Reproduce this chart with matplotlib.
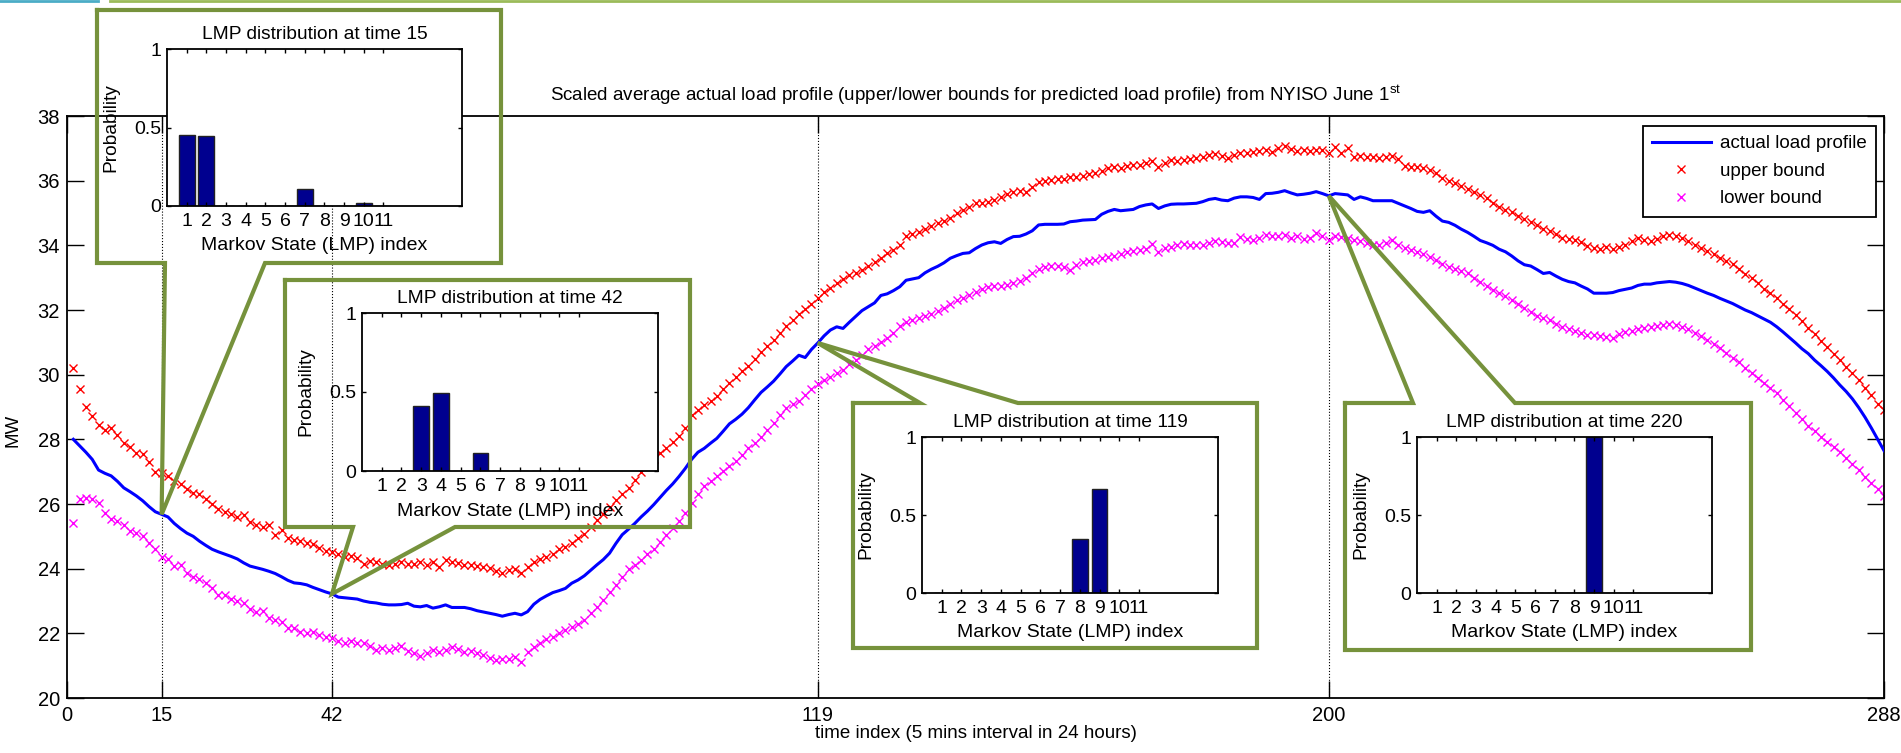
import matplotlib
matplotlib.use("Agg")
import matplotlib.pyplot as plt
from matplotlib.lines import Line2D

plt.rcParams['font.family'] = ['Liberation Sans', 'DejaVu Sans']
plt.rcParams['mathtext.fontset'] = 'custom'
plt.rcParams['mathtext.rm'] = 'Liberation Sans'
plt.rcParams['mathtext.it'] = 'Liberation Sans'

# data (time index 1..288, MW)
time_index = list(range(1, 289))

actual_load = [
    28.0, 27.8, 27.6, 27.38, 27.05, 26.95, 26.87, 26.7, 26.5, 26.38,
    26.25, 26.1, 25.92, 25.76, 25.68, 25.6, 25.4, 25.24, 25.1, 25.0,
    24.85, 24.72, 24.6, 24.52, 24.45, 24.38, 24.3, 24.18, 24.08, 24.03,
    23.98, 23.92, 23.85, 23.75, 23.64, 23.56, 23.54, 23.5, 23.42, 23.35,
    23.28, 23.22, 23.12, 23.1, 23.08, 23.06, 23.0, 22.96, 22.94, 22.9,
    22.88, 22.88, 22.89, 22.93, 22.84, 22.82, 22.86, 22.78, 22.82, 22.88,
    22.8, 22.8, 22.8, 22.76, 22.7, 22.66, 22.62, 22.58, 22.53, 22.58,
    22.62, 22.57, 22.67, 22.9, 23.05, 23.16, 23.26, 23.32, 23.39, 23.55,
    23.65, 23.78, 23.95, 24.12, 24.28, 24.48, 24.78, 25.05, 25.22, 25.4,
    25.6, 25.78, 25.98, 26.2, 26.42, 26.62, 26.85, 27.1, 27.38, 27.6,
    27.72, 27.88, 28.03, 28.25, 28.48, 28.62, 28.78, 28.98, 29.22, 29.45,
    29.62, 29.8, 30.02, 30.25, 30.42, 30.6, 30.53, 30.78, 30.98, 31.2,
    31.38, 31.48, 31.43, 31.62, 31.8, 31.98, 32.1, 32.22, 32.45, 32.5,
    32.6, 32.72, 32.92, 32.96, 33.0, 33.15, 33.26, 33.35, 33.46, 33.6,
    33.68, 33.75, 33.77, 33.9, 34.01, 34.08, 34.11, 34.06, 34.18, 34.27,
    34.28, 34.35, 34.45, 34.63, 34.65, 34.65, 34.65, 34.66, 34.73, 34.75,
    34.78, 34.79, 34.8, 34.96, 35.05, 35.11, 35.07, 35.09, 35.11, 35.2,
    35.25, 35.28, 35.14, 35.22, 35.27, 35.28, 35.28, 35.29, 35.3, 35.35,
    35.42, 35.45, 35.4, 35.38, 35.46, 35.5, 35.5, 35.48, 35.42, 35.6,
    35.61, 35.64, 35.69, 35.62, 35.56, 35.58, 35.61, 35.66, 35.6, 35.53,
    35.6, 35.58, 35.56, 35.42, 35.5, 35.45, 35.38, 35.38, 35.38, 35.38,
    35.3, 35.22, 35.14, 35.05, 35.02, 35.07, 34.9, 34.75, 34.71, 34.62,
    34.5, 34.4, 34.28, 34.15, 34.08, 34.0, 33.88, 33.8, 33.67, 33.52,
    33.4, 33.36, 33.25, 33.13, 33.16, 33.05, 32.95, 32.88, 32.84, 32.74,
    32.65, 32.52, 32.52, 32.52, 32.54, 32.6, 32.64, 32.68, 32.76, 32.8,
    32.8, 32.84, 32.86, 32.88, 32.86, 32.82, 32.76, 32.68, 32.6, 32.52,
    32.45, 32.36, 32.28, 32.2, 32.1, 32.0, 31.92, 31.82, 31.72, 31.62,
    31.48, 31.32, 31.15, 30.98, 30.8, 30.65, 30.45, 30.28, 30.1, 29.9,
    29.68, 29.48, 29.25, 28.98, 28.68, 28.35, 28.0, 27.65,
]

upper_bound = [
    30.2, 29.55, 29.0, 28.73, 28.44, 28.29, 28.35, 28.13, 27.9, 27.75,
    27.57, 27.55, 27.31, 27.0, 26.95, 26.86, 26.7, 26.61, 26.45, 26.33,
    26.3, 26.15, 26.0, 25.85, 25.76, 25.7, 25.6, 25.65, 25.45, 25.35,
    25.3, 25.35, 25.04, 25.2, 24.94, 24.9, 24.85, 24.78, 24.75, 24.63,
    24.55, 24.53, 24.45, 24.35, 24.4, 24.32, 24.15, 24.25, 24.2, 24.15,
    24.11, 24.15, 24.2, 24.15, 24.15, 24.2, 24.1, 24.2, 24.05, 24.26,
    24.2, 24.16, 24.12, 24.11, 24.08, 24.05, 24.01, 23.92, 23.88, 23.95,
    23.98, 23.88, 24.06, 24.2, 24.3, 24.37, 24.45, 24.6, 24.68, 24.8,
    24.94, 25.08, 25.28, 25.5, 25.7, 25.92, 26.12, 26.3, 26.5, 26.75,
    26.98, 27.22, 27.4, 27.57, 27.74, 27.92, 28.1, 28.35, 28.75, 28.9,
    29.05, 29.2, 29.35, 29.55, 29.75, 29.92, 30.1, 30.26, 30.5, 30.7,
    30.88, 31.08, 31.3, 31.52, 31.7, 31.88, 32.02, 32.2, 32.38, 32.55,
    32.68, 32.82, 32.95, 33.08, 33.15, 33.24, 33.35, 33.48, 33.6, 33.75,
    33.85, 34.0, 34.3, 34.35, 34.42, 34.5, 34.6, 34.68, 34.76, 34.85,
    35.0, 35.1, 35.2, 35.3, 35.32, 35.35, 35.4, 35.48, 35.58, 35.66,
    35.68, 35.65, 35.8, 35.97, 35.98, 36.02, 36.04, 36.06, 36.1, 36.12,
    36.15, 36.2, 36.23, 36.3, 36.38, 36.43, 36.4, 36.45, 36.48, 36.5,
    36.56, 36.6, 36.43, 36.55, 36.64, 36.62, 36.65, 36.66, 36.7, 36.74,
    36.78, 36.82, 36.75, 36.69, 36.8, 36.87, 36.85, 36.9, 36.93, 36.95,
    36.9, 37.0, 37.07, 36.98, 36.93, 36.96, 36.92, 36.95, 36.95, 36.87,
    37.03, 36.85, 37.0, 36.74, 36.76, 36.74, 36.72, 36.69, 36.72, 36.77,
    36.68, 36.45, 36.43, 36.41, 36.4, 36.33, 36.25, 36.08, 36.0, 35.92,
    35.84, 35.74, 35.66, 35.55, 35.45, 35.3, 35.18, 35.1, 35.02, 34.92,
    34.82, 34.72, 34.62, 34.52, 34.43, 34.34, 34.24, 34.2, 34.17, 34.1,
    33.98, 33.92, 33.88, 33.95, 33.9, 33.96, 34.02, 34.12, 34.22, 34.16,
    34.12, 34.2, 34.28, 34.32, 34.3, 34.24, 34.14, 34.02, 33.92, 33.82,
    33.72, 33.62, 33.52, 33.42, 33.28, 33.12, 32.98, 32.82, 32.66, 32.52,
    32.36, 32.2, 32.02, 31.85, 31.65, 31.45, 31.25, 31.05, 30.85, 30.65,
    30.45, 30.25, 30.05, 29.85, 29.6, 29.38, 29.1, 28.9,
]

lower_bound = [
    25.42, 26.17, 26.2, 26.15, 26.02, 25.71, 25.55, 25.48, 25.35, 25.15,
    25.09, 25.0, 24.8, 24.6, 24.37, 24.3, 24.08, 24.1, 23.88, 23.75,
    23.67, 23.55, 23.39, 23.2, 23.18, 23.05, 23.0, 22.95, 22.74, 22.65,
    22.7, 22.46, 22.4, 22.35, 22.15, 22.15, 22.05, 22.0, 22.05, 21.95,
    21.88, 21.85, 21.75, 21.7, 21.75, 21.69, 21.7, 21.6, 21.5, 21.55,
    21.5, 21.55, 21.6, 21.45, 21.38, 21.3, 21.4, 21.5, 21.43, 21.5,
    21.59, 21.52, 21.43, 21.45, 21.38, 21.33, 21.25, 21.17, 21.2, 21.22,
    21.28, 21.12, 21.43, 21.58, 21.7, 21.82, 21.9, 22.0, 22.1, 22.2,
    22.3, 22.42, 22.62, 22.82, 23.02, 23.28, 23.5, 23.75, 24.0, 24.12,
    24.28, 24.45, 24.6, 24.82, 25.04, 25.25, 25.48, 25.72, 26.02, 26.3,
    26.55, 26.72, 26.88, 27.02, 27.18, 27.32, 27.52, 27.72, 27.9, 28.08,
    28.3, 28.52, 28.75, 28.96, 29.08, 29.2, 29.38, 29.55, 29.7, 29.84,
    29.94, 30.05, 30.15, 30.32, 30.45, 30.62, 30.8, 30.9, 31.0, 31.12,
    31.3, 31.5, 31.62, 31.7, 31.75, 31.8, 31.88, 31.98, 32.05, 32.18,
    32.3, 32.38, 32.46, 32.55, 32.66, 32.7, 32.74, 32.75, 32.77, 32.82,
    32.9, 33.0, 33.15, 33.28, 33.32, 33.36, 33.35, 33.32, 33.24, 33.4,
    33.48, 33.52, 33.56, 33.6, 33.64, 33.68, 33.72, 33.78, 33.82, 33.86,
    33.9, 34.04, 33.8, 33.92, 33.96, 34.0, 34.04, 34.02, 34.0, 34.01,
    34.08, 34.14, 34.1, 34.06, 34.08, 34.27, 34.2, 34.16, 34.22, 34.32,
    34.29, 34.3, 34.32, 34.22, 34.3, 34.2, 34.22, 34.39, 34.3, 34.16,
    34.29, 34.26, 34.22, 34.18, 34.12, 34.08, 34.02, 34.0, 34.08, 34.16,
    34.02, 33.92, 33.85, 33.78, 33.72, 33.64, 33.55, 33.42, 33.32, 33.27,
    33.22, 33.14, 33.0, 32.86, 32.74, 32.62, 32.52, 32.42, 32.32, 32.18,
    32.06, 31.94, 31.82, 31.75, 31.69, 31.58, 31.48, 31.42, 31.34, 31.3,
    31.24, 31.22, 31.2, 31.15, 31.12, 31.26, 31.32, 31.36, 31.4, 31.44,
    31.48, 31.5, 31.55, 31.58, 31.55, 31.48, 31.4, 31.3, 31.2, 31.08,
    30.95, 30.82, 30.68, 30.52, 30.38, 30.22, 30.06, 29.9, 29.75, 29.6,
    29.42, 29.22, 29.02, 28.82, 28.62, 28.42, 28.25, 28.08, 27.92, 27.76,
    27.6, 27.42, 27.25, 27.05, 26.85, 26.65, 26.45, 26.25,
]

x_ticks = [0, 15, 42, 119, 200, 288]
marked_times = [15, 42, 119, 200]

states = list(range(1, 12))
lmp_t15 = [0.45, 0.445, 0, 0, 0, 0, 0.11, 0, 0, 0.02, 0]
lmp_t42 = [0, 0, 0.41, 0.495, 0, 0.115, 0, 0, 0, 0, 0]
lmp_t119 = [0, 0, 0, 0, 0, 0, 0, 0.347, 0.666, 0, 0]
lmp_t220 = [0, 0, 0, 0, 0, 0, 0, 0, 1.0, 0, 0]

W, H = 1901, 753
GREEN = '#76923C'

def fx(px):
    return px / W

def fy(py):
    return 1 - py / H

fig = plt.figure(figsize=(W / 100, H / 100), dpi=100)

# main chart
ax = fig.add_axes([fx(67), fy(698), fx(1884) - fx(67), fy(116) - fy(698)])
for t in marked_times:
    ax.axvline(t, color='black', linestyle=':', linewidth=0.8, zorder=1)
ax.plot(time_index, actual_load, color='#0000FF', linewidth=2.2, label='actual load profile', zorder=3)
ax.plot(time_index, upper_bound, linestyle='none', marker='x', color='#FF0000',
        markersize=6, markeredgewidth=1.0, label='upper bound', zorder=2)
ax.plot(time_index, lower_bound, linestyle='none', marker='x', color='#FF00FF',
        markersize=6, markeredgewidth=1.0, label='lower bound', zorder=2)
ax.set_xlim(0, 288)
ax.set_ylim(20, 38)
ax.set_xticks(x_ticks)
ax.set_yticks(range(20, 39, 2))
ax.tick_params(direction='in', top=True, right=True, length=12, width=1, labelsize=14.5)
ax.tick_params(axis='x', pad=6)
ax.tick_params(axis='y', pad=5)
for s in ax.spines.values():
    s.set_linewidth(1.3)
ax.set_title('Scaled average actual load profile (upper/lower bounds for predicted load profile) '
             'from NYISO June 1$^{\\rm st}$', fontsize=13.5, pad=11)
ax.set_xlabel('time index (5 mins interval in 24 hours)', fontsize=13.5)
ax.xaxis.set_label_coords(0.5, -0.046)
ax.set_ylabel('MW', fontsize=13.5)
ax.yaxis.set_label_coords(-0.025, 0.46)

leg = ax.legend(loc='upper right', bbox_to_anchor=(fx(1876), fy(126)), bbox_transform=fig.transFigure,
                fontsize=13.5, fancybox=False, edgecolor='black', framealpha=1, handlelength=3.1,
                borderaxespad=0, borderpad=0.5, labelspacing=0.55, handletextpad=0.5, numpoints=1)
leg.get_frame().set_linewidth(1.3)

fig.canvas.draw()

# callouts with LMP distributions
callouts = [
    (15, lmp_t15, (167, 49, 462, 206), (97, 10, 501, 263), 'bottom', (165, 265), 15),
    (42, lmp_t42, (362, 313, 658, 471), (285, 280, 690, 527), 'bottom', (353, 455), 42),
    (119, lmp_t119, (922, 437, 1218, 593), (853, 403, 1257, 648), 'top', (920, 1018), 119),
    (220, lmp_t220, (1417, 437, 1712, 593), (1345, 403, 1751, 650), 'top', (1413, 1515), 200),
]

to_fig = fig.transFigure.inverted()
for label_t, probs, inset, box, side, (p0, p1), tip_t in callouts:
    tx, ty = to_fig.transform(ax.transData.transform((tip_t, actual_load[tip_t - 1])))
    l, t, r, b = box
    if side == 'bottom':
        pts = [(fx(l), fy(t)), (fx(r), fy(t)), (fx(r), fy(b)), (fx(p1), fy(b)), (tx, ty),
               (fx(p0), fy(b)), (fx(l), fy(b)), (fx(l), fy(t))]
    else:
        pts = [(fx(l), fy(t)), (fx(p0), fy(t)), (tx, ty), (fx(p1), fy(t)), (fx(r), fy(t)),
               (fx(r), fy(b)), (fx(l), fy(b)), (fx(l), fy(t))]
    xs, ys = zip(*pts)
    fig.add_artist(Line2D(xs, ys, transform=fig.transFigure, color=GREEN, linewidth=3,
                          solid_joinstyle='miter', zorder=4))

    il, it, ir, ib = inset
    iax = fig.add_axes([fx(il), fy(ib), fx(ir) - fx(il), fy(it) - fy(ib)], zorder=5)
    iax.bar(states, probs, width=0.8, color='#00008F', edgecolor='#222222', linewidth=1)
    iax.set_xlim(0, 15)
    iax.set_ylim(0, 1)
    iax.set_xticks(states)
    iax.set_yticks([0, 0.5, 1])
    iax.set_yticklabels(['0', '0.5', '1'])
    iax.tick_params(direction='in', top=True, right=True, length=3, width=1, labelsize=14)
    iax.tick_params(axis='x', pad=5)
    iax.tick_params(axis='y', pad=4)
    for s in iax.spines.values():
        s.set_linewidth(1.3)
    iax.set_title(f'LMP distribution at time {label_t}', fontsize=13.8, pad=7)
    iax.set_xlabel('Markov State (LMP) index', fontsize=14)
    iax.xaxis.set_label_coords(0.5, -0.2)
    iax.set_ylabel('Probability', fontsize=13.8)
    iax.yaxis.set_label_coords(-0.16, 0.5)

# slide decoration at the very top
fig.add_artist(Line2D([0, fx(98)], [fy(1), fy(1)], transform=fig.transFigure, color='#4BACC6', linewidth=2))
fig.add_artist(Line2D([fx(110), 1], [fy(1), fy(1)], transform=fig.transFigure, color='#9BBB59', linewidth=2))

fig.savefig('out.png', dpi=100)
